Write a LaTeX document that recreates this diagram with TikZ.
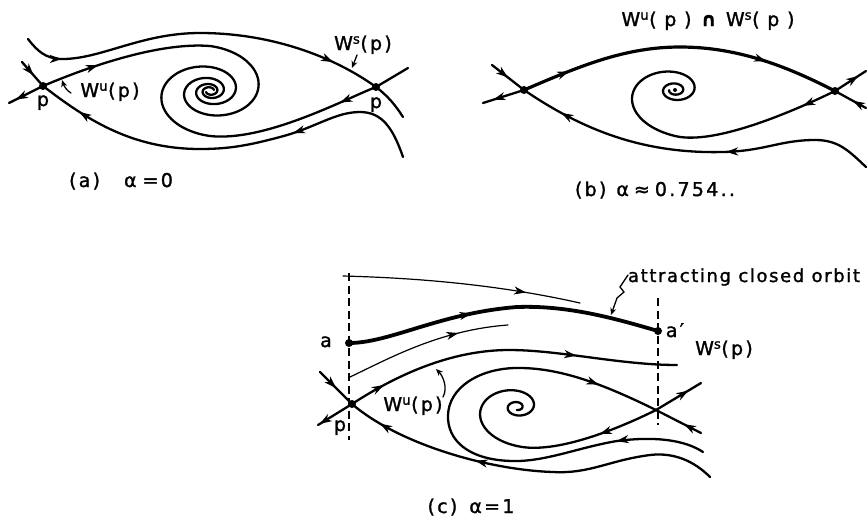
\documentclass[tikz,border=0pt]{standalone}
\usepackage{fontspec}
\setmainfont{DejaVu Sans}
\newfontfamily\lab[LetterSpace=12,FakeBold=1.4]{DejaVu Sans}
\newfontfamily\labw[LetterSpace=9,FakeBold=1.4]{DejaVu Sans}
\usetikzlibrary{arrows.meta,decorations.markings}
\tikzset{
  >={Stealth[length=12pt,width=8pt,inset=3.5pt]},
  curve/.style={line width=2.3pt,line cap=round,line join=round},
  thinline/.style={line width=1.2pt,line cap=round},
  heavyline/.style={line width=3.2pt,line cap=round},
  orbitline/.style={line width=3.8pt,line cap=round},
  dashline/.style={line width=1.4pt,dash pattern=on 8pt off 4.5pt},
  ma/.style={postaction={decorate,decoration={markings,mark=at position #1 with {\arrow{>}}}}},
  mb/.style 2 args={postaction={decorate,decoration={markings,mark=at position #1 with {\arrow{>}},mark=at position #2 with {\arrow{>}}}}},
  dotn/.style={circle,fill,inner sep=0pt,minimum size=8pt},
  lbl/.style={font=\lab\fontsize{19}{22}\selectfont,inner sep=0pt,anchor=base},
  leader/.style={line width=1.3pt,line cap=round,-{Stealth[length=7pt,width=6pt]}},
}
\begin{document}
\begin{tikzpicture}[x=1pt,y=-1pt]
\useasboundingbox (0,0) rectangle (867,523);

% ================= (a) =================
\node[dotn] (pa) at (43,86) {};
\node[dotn] (qa) at (376,87) {};
% top stable curve through right saddle
\draw[curve, mb={0.1}{0.78}] (28,39) .. controls (38,52) and (46,58) .. (60,59)
  .. controls (100,60) and (140,33) .. (200,33)
  .. controls (270,33) and (333,56) .. (qa.center)
  .. controls (388,96) and (396,106) .. (403,117);
% left saddle: stable from upper left, unstable to lower left
\draw[curve, ma=0.55] (22,62) -- (pa.center);
\draw[curve, ma=0.8] (pa.center) -- (9,103);
% W^u(p): arm A into spiral
\draw[curve, ma=0.34] (pa.center) .. controls (90,66) and (160,42) .. (210,46);
\draw[curve] plot[domain=-90:700, samples=260, variable=\t]
  ({210+1.45*45*exp(-0.2*(\t+90)*pi/180)*cos(\t)}, {91+45*exp(-0.2*(\t+90)*pi/180)*sin(\t)});
% right saddle: upper right line and arm B into spiral
\draw[curve, ma=0.36] (408,68) -- (qa.center) .. controls (345,99) and (265,142) .. (210,136);
\draw[curve] plot[domain=-90:700, samples=260, variable=\t]
  ({210-1.45*45*exp(-0.2*(\t+90)*pi/180)*cos(\t)}, {91-45*exp(-0.2*(\t+90)*pi/180)*sin(\t)});
% bottom curve
\draw[curve, mb={0.34}{0.89}] (403,157) .. controls (393,128) and (382,112) .. (360,112)
  .. controls (335,112) and (315,128) .. (280,137)
  .. controls (250,145) and (230,149) .. (200,149)
  .. controls (130,149) and (85,118) .. (pa.center);
% labels (a)
\node[lbl] (lpa) at (43,106) {p};
\node[lbl] (lqa) at (376,108) {p};
\node[lbl] (wua) at (110,97) {W\textsuperscript{u}(p)};
\node[lbl] (wsa) at (363,50) {W\textsuperscript{s}(p)};
\coordinate (wua1) at (71,93);
\coordinate (wua2) at (62,80);
\draw[leader] (wua1) .. controls (67,91) and (64,86) .. (wua2);
\coordinate (wsa1) at (357,55);
\coordinate (wsa2) at (352,68);
\draw[leader] (wsa1) -- (wsa2);
\node[lbl] (capa) at (121,187) {(a)\hspace{24pt}α\hspace{6pt}=0};

% ================= (b) =================
\node[dotn] (pb) at (524,90) {};
\node[dotn] (qb) at (835,91) {};
\draw[heavyline, mb={0.15}{0.77}] (pb.center) .. controls (580,66) and (625,47) .. (680,47)
  .. controls (740,47) and (790,68) .. (qb.center);
\draw[curve, ma=0.42] (866,108) -- (qb.center);
\draw[curve, ma=0.75] (qb.center) -- (866,71);
\draw[curve, ma=0.5] (492,65) -- (pb.center);
\draw[curve, ma=0.75] (pb.center) -- (483,103);
\draw[curve, mb={0.41}{0.88}] (866,167) .. controls (848,150) and (838,140) .. (815,140)
  .. controls (780,140) and (765,151) .. (723,152)
  .. controls (640,154) and (580,128) .. (pb.center);
\draw[curve, ma=0.21] (qb.center) .. controls (800,108) and (716,146) .. (675,136);
\draw[curve] plot[domain=0:14.1, samples=260, variable=\t]
  ({675+1.5*(30*exp(-0.5*\t)+16*exp(-0.1*\t))*cos(deg(\t)+90)},
   {90+(30*exp(-0.5*\t)+16*exp(-0.1*\t))*sin(deg(\t)+90)});
\node[circle,fill,inner sep=0pt,minimum size=4pt] (fb) at (675,90) {};
\node[lbl, font=\labw\fontsize{19}{22}\selectfont] (tb) at (708,26) {W\textsuperscript{u}( p ) \textbf{∩} W\textsuperscript{s}( p )};
\node[lbl] (capb) at (655,196) {(b)\hspace{10pt}α\hspace{5pt}≈\hspace{5pt}0.754..};

% ================= (c) =================
\coordinate (dl1) at (349,273); \coordinate (dl2) at (349,440);
\coordinate (dr1) at (658,298); \coordinate (dr2) at (658,425);
\draw[dashline] (dl1) -- (dl2);
\draw[dashline] (dr1) -- (dr2);
\node[dotn] (pc) at (352,404) {};
\node[dotn] (ac) at (349,343) {};
\node[dotn] (ac2) at (658,331) {};
\coordinate (qc) at (656,410);
% thin top
\draw[thinline, ma=0.77] (343,276) .. controls (420,278) and (500,285) .. (580,303);
% attracting closed orbit
\draw[orbitline, ma=0.4] (ac.center) .. controls (390,343) and (440,313) .. (517,307)
  .. controls (570,305) and (620,320) .. (ac2.center);
% thin third
\draw[thinline, ma=0.7] (350,377) .. controls (390,358) and (440,330) .. (508,325);
% W^u(p)
\draw[curve, mb={0.11}{0.70}] (pc.center) .. controls (395,376) and (450,350) .. (509,350)
  .. controls (560,350) and (620,365) .. (677,365);
% left saddle
\draw[curve, ma=0.95] (pc.center) -- (318,425);
\draw[curve, ma=0.5] (320,372) -- (pc.center);
% bottom curve
\draw[curve, mb={0.64}{0.91}] (710,477) .. controls (695,462) and (675,452) .. (650,455)
  .. controls (610,460) and (590,474) .. (553,472)
  .. controls (490,470) and (400,445) .. (pc.center);
% right saddle
\draw[curve, ma=0.38] (701,433) -- (qc);
\draw[curve, ma=0.72] (qc) -- (701,383);
\draw[curve, mb={0.17}{0.88}] (703,452) .. controls (685,440) and (655,436) .. (617,441)
  .. controls (580,447) and (545,462) .. (512,461)
  .. controls (468,460) and (447,440) .. (448,415)
  .. controls (449,388) and (478,369) .. (515,368)
  .. controls (560,367) and (605,385) .. (qc);
\draw[curve, ma=0.42] (qc) .. controls (620,428) and (555,455) .. (517,446);
\draw[curve] plot[domain=0:12.6, samples=260, variable=\t]
  ({517+1.45*(22*exp(-0.45*\t)+17*exp(-0.14*\t))*cos(deg(\t)+90)},
   {407+(22*exp(-0.45*\t)+17*exp(-0.14*\t))*sin(deg(\t)+90)});
% labels (c)
\node[lbl, font=\labw\fontsize{18}{21}\selectfont] (aco) at (744,282) {attracting closed orbit};
\coordinate (ld1) at (628,275);
\coordinate (ld2) at (611,315);
\draw[leader] (ld1) -- (620,287) -- (624,292) -- (617,298) -- (ld2);
\node[lbl] (lac) at (326,347) {a};
\node[lbl] (lac2) at (675,337) {a′};
\node[lbl] (wsc) at (724,355) {W\textsuperscript{s}(p)};
\node[lbl] (wuc) at (413,411) {W\textsuperscript{u}(p)};
\node[lbl] (lpc) at (340,431) {p};
\coordinate (wuc1) at (443,397);
\coordinate (wuc2) at (436,369);
\draw[leader] (wuc1) .. controls (448,388) and (443,376) .. (wuc2);
\node[lbl] (capc) at (471,513) {(c)\hspace{12pt}α=1};
\end{tikzpicture}
\end{document}
